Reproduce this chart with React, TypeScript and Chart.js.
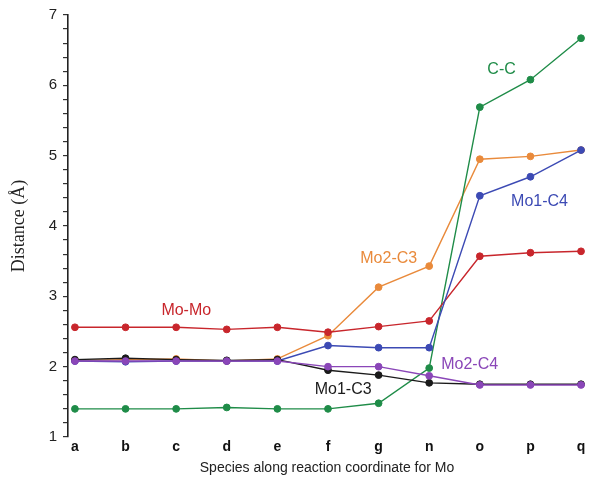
import React, { useEffect, useRef } from "react";
import { Chart, registerables } from "chart.js";
Chart.register(...registerables);

const categories = ["a", "b", "c", "d", "e", "f", "g", "n", "o", "p", "q"];
const moMo = [2.56, 2.56, 2.56, 2.53, 2.56, 2.49, 2.57, 2.65, 3.57, 3.62, 3.64];
const mo2C3 = [2.09, 2.1, 2.11, 2.08, 2.11, 2.44, 3.13, 3.43, 4.95, 4.99, 5.08];
const mo1C4 = [2.08, 2.07, 2.08, 2.08, 2.08, 2.3, 2.27, 2.27, 4.43, 4.7, 5.08];
const cC = [1.4, 1.4, 1.4, 1.42, 1.4, 1.4, 1.48, 1.98, 5.69, 6.08, 6.67];
const mo2C4 = [2.08, 2.08, 2.08, 2.08, 2.08, 2.0, 2.0, 1.87, 1.74, 1.74, 1.74];
const mo1C3 = [2.1, 2.12, 2.1, 2.09, 2.1, 1.95, 1.88, 1.77, 1.75, 1.75, 1.75];

const seriesNames = ["Mo-Mo", "Mo2-C3", "Mo1-C4", "C-C", "Mo2-C4", "Mo1-C3"];
const colors = ["#c8262c", "#e98a3b", "#3c4ab4", "#1f8c48", "#8a46b8", "#1a1a1a"];
// label anchor positions in data units (x index, y value)
const labelX = [2.2, 6.2, 9.18, 8.43, 7.8, 5.3];
const labelY = [2.8, 3.54, 4.35, 6.22, 2.03, 1.68];

export default function App() {
  const ref = useRef<HTMLCanvasElement>(null);
  useEffect(() => {
    const ctx = ref.current!;
    const seriesData = [moMo, mo2C3, mo1C4, cC, mo2C4, mo1C3];
    const order = [4, 5, 2, 0, 3, 1];
    const datasets = order.map((i) => ({
      label: seriesNames[i],
      data: seriesData[i].map((v, k) => ({ x: k, y: v })),
      borderColor: colors[i],
      backgroundColor: colors[i],
      pointBackgroundColor: colors[i],
      pointBorderColor: colors[i],
      borderWidth: 1.4,
      pointRadius: 3.4,
      pointBorderWidth: 1,
      tension: 0,
      clip: false as any,
    }));
    const labelPlugin = {
      id: "seriesLabels",
      afterDatasetsDraw(chart: any) {
        const c = chart.ctx;
        const xs = chart.scales.x;
        const ys = chart.scales.y;
        c.save();
        c.font = "16px 'Liberation Sans', Arial, sans-serif";
        c.textAlign = "center";
        c.textBaseline = "middle";
        seriesNames.forEach((n, i) => {
          c.fillStyle = colors[i];
          c.fillText(n, xs.getPixelForValue(labelX[i]), ys.getPixelForValue(labelY[i]));
        });
        c.restore();
      },
    };
    const chart = new Chart(ctx, {
      type: "line",
      data: { datasets },
      plugins: [labelPlugin],
      options: {
        animation: false,
        responsive: false,
        layout: { padding: { left: 0, right: 1, top: 15, bottom: 4 } },
        plugins: { legend: { display: false }, tooltip: { enabled: false } },
        scales: {
          x: {
            type: "linear",
            min: -0.137,
            max: 10.098,
            afterBuildTicks: (s: any) => {
              s.ticks = categories.map((_, i) => ({ value: i }));
            },
            afterFit: (s: any) => {
              s.height = 40;
            },
            grid: { display: false, drawTicks: false },
            border: { display: false },
            ticks: {
              autoSkip: false,
              maxRotation: 0,
              padding: 2,
              color: "#111",
              font: { family: "'Liberation Sans', Arial, sans-serif", size: 14, weight: "bold" },
              callback: (v: any) => categories[Math.round(Number(v))] ?? "",
            },
            title: {
              display: true,
              text: "Species along reaction coordinate for Mo",
              color: "#222",
              font: { family: "'Liberation Sans', Arial, sans-serif", size: 14 },
              padding: { top: 2, bottom: 0 },
            },
          },
          y: {
            type: "linear",
            min: 1,
            max: 7,
            afterBuildTicks: (s: any) => {
              const t = [];
              for (let i = 0; i <= 30; i++) t.push({ value: 1 + i * 0.2 });
              s.ticks = t;
            },
            afterFit: (s: any) => {
              s.width = 68;
            },
            grid: {
              display: true,
              drawOnChartArea: false,
              drawTicks: true,
              tickLength: 5,
              color: "#333",
              lineWidth: 1.2,
            },
            border: { display: true, color: "#222", width: 1.6 },
            ticks: {
              autoSkip: false,
              padding: 6,
              color: "#222",
              font: { family: "'Liberation Sans', Arial, sans-serif", size: 15 },
              callback: (v: any) => {
                const n = Number(v);
                return Math.abs(n - Math.round(n)) < 1e-6 ? String(Math.round(n)) : "";
              },
            },
            title: {
              display: true,
              text: "Distance (Å)",
              color: "#222",
              font: { family: "'Liberation Serif', 'Times New Roman', serif", size: 18 },
              padding: { top: 8, bottom: 4 },
            },
          },
        },
      },
    });
    return () => chart.destroy();
  }, []);
  return (
    <div style={{ position: "fixed", left: 0, top: 0, width: 591, height: 481, background: "#fff" }}>
      <canvas ref={ref} width={591} height={481} style={{ width: 591, height: 481 }} />
    </div>
  );
}
